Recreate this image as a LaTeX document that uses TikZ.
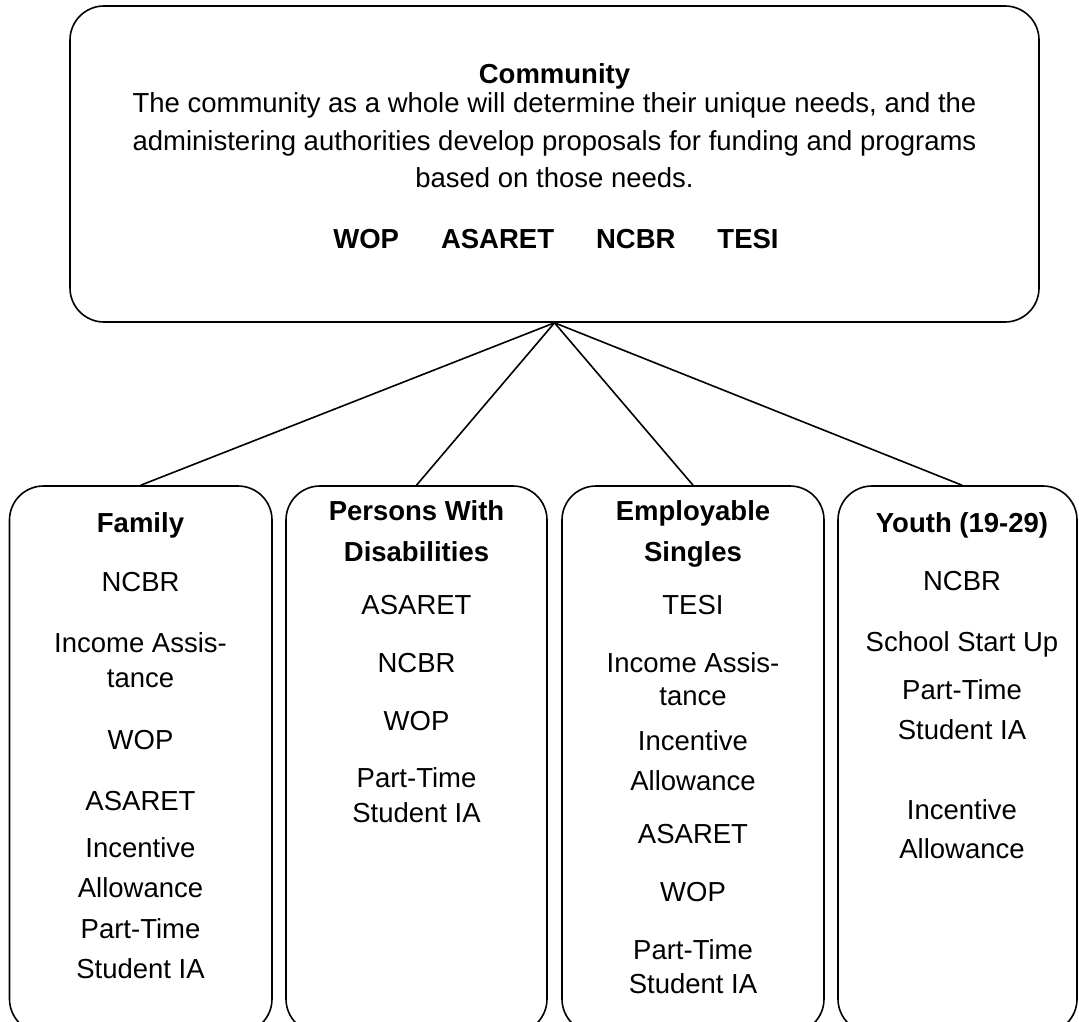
\documentclass[tikz,border=0pt]{standalone}
\usepackage{fontspec}
\setmainfont{Liberation Sans}
\begin{document}
\begin{tikzpicture}[x=1pt,y=-1pt,
  box/.style={draw, line width=1.6pt, rounded corners=34pt, inner sep=0pt},
  txt/.style={anchor=base, inner sep=0pt, font=\fontsize{27.5}{33}\selectfont},
  hd/.style={anchor=base, inner sep=0pt, font=\fontsize{27.5}{33}\selectfont\bfseries},
  link/.style={line width=1.6pt}]
\useasboundingbox (0,0) rectangle (1079,1022);
\clip (0,0) rectangle (1079,1022);
% top box
\node[box, minimum width=969pt, minimum height=316pt] (top) at (554.5,164) {};
\node[hd] (ttl) at (554.5,84) {Community};
\node[txt] (tl1) at (554.5,113) {The community as a whole will determine their unique needs, and the};
\node[txt] (tl2) at (554.5,150) {administering authorities develop proposals for funding and programs};
\node[txt] (tl3) at (554.5,187) {based on those needs.};
\node[hd] (tl4) at (556,248) {WOP\hspace{42pt}ASARET\hspace{42pt}NCBR\hspace{42pt}TESI};
% bottom boxes
\node[box, minimum width=262.5pt, minimum height=547pt] (b1) at (140.75,759.5) {};
\node[box, minimum width=261pt, minimum height=547pt] (b2) at (416.5,759.5) {};
\node[box, minimum width=262pt, minimum height=547pt] (b3) at (693,759.5) {};
\node[box, minimum width=239pt, minimum height=547pt] (b4) at (957.5,759.5) {};
% box 1
\node[hd] (a0) at (140.5,532) {Family};
\foreach \t/\yy [count=\i] in {NCBR/591, Income Assis-/652, tance/687, WOP/749, ASARET/810, Incentive/857, Allowance/897, Part-Time/938, Student IA/978}
  \node[txt] (a\i) at (140.5,\yy) {\t};
% box 2
\node[hd] (c0) at (416.5,520) {Persons With};
\node[hd] (c00) at (416.5,561) {Disabilities};
\foreach \t/\yy [count=\i] in {ASARET/614, NCBR/672, WOP/730, Part-Time/787, Student IA/822}
  \node[txt] (c\i) at (416.5,\yy) {\t};
% box 3
\node[hd] (d0) at (693,520) {Employable};
\node[hd] (d00) at (693,561) {Singles};
\foreach \t/\yy [count=\i] in {TESI/614, Income Assis-/672, tance/705, Incentive/750, Allowance/790, ASARET/843, WOP/901, Part-Time/959, Student IA/993}
  \node[txt] (d\i) at (693,\yy) {\t};
% box 4
\node[hd] (e0) at (962,532) {Youth (19-29)};
\foreach \t/\yy [count=\i] in {NCBR/590, School Start Up/651, Part-Time/699, Student IA/739, Incentive/819, Allowance/858}
  \node[txt] (e\i) at (962,\yy) {\t};
% connectors
\draw[link] (top.south) -- (b1.north);
\draw[link] (top.south) -- (b2.north);
\draw[link] (top.south) -- (b3.north);
\draw[link] (top.south) -- (b4.north -| e0);
\end{tikzpicture}
\end{document}
